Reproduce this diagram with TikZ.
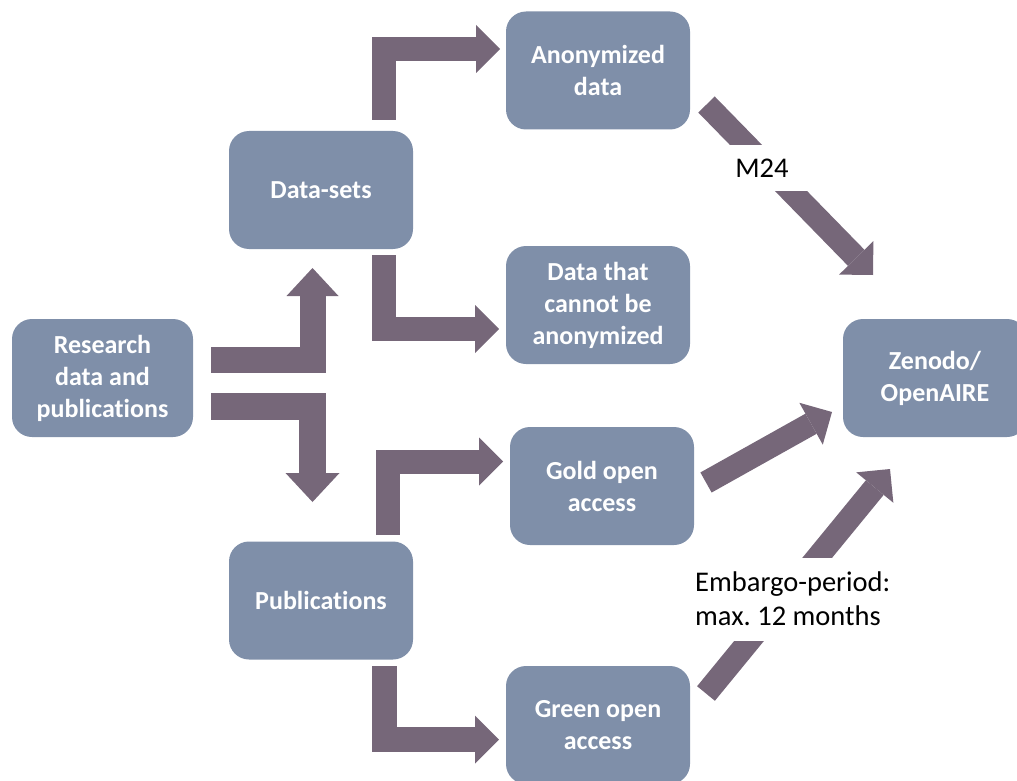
\documentclass[tikz,border=0pt]{standalone}
\usepackage{fontspec}
\setmainfont{Carlito}[Ligatures=NoCommon]
\usetikzlibrary{arrows.meta}
\definecolor{boxc}{HTML}{7F8FA9}
\definecolor{arrc}{HTML}{766779}
\begin{document}
\begin{tikzpicture}[x=1pt,y=-1pt,
  box/.style={rectangle,rounded corners=20pt,fill=boxc,minimum width=184pt,minimum height=118pt,
    inner sep=0pt,align=center,text=white,font=\fontsize{26}{32}\selectfont\bfseries},
  fat/.style={draw=arrc,line width=26pt,line join=miter,-{Triangle[width=52pt,length=28pt,line width=0pt]}},
  mid/.style={draw=arrc,line width=24pt,line join=miter,-{Triangle[width=48pt,length=24pt,line width=0pt]}},
  diag/.style={draw=arrc,line width=23pt,-{Triangle[width=48pt,length=24pt,line width=0pt]}},
  lbl/.style={fill=white,text=black,font=\fontsize{28.5}{34}\selectfont\frenchspacing}]
\useasboundingbox (0,0) rectangle (1017,781);
% nodes
\node[box,minimum width=181pt] (res) at (102.5,378) {Research\\data and\\publications};
\node[box] (ds) at (321,190) {Data-sets};
\node[box] (pub) at (321,600.5) {Publications};
\node[box] (anon) at (598,70.5) {Anonymized\\data};
\node[box] (nonanon) at (598,305) {Data that\\cannot be\\anonymized};
\node[box] (gold) at (602,486) {Gold open\\access};
\node[box] (green) at (598,725) {Green open\\access};
\node[box] (zen) at (935,378) {Zenodo/\\OpenAIRE};
% connector end points
\coordinate (a1s) at (211,360);   \coordinate (a1e) at (312.5,268);
\coordinate (a2s) at (211,406.5); \coordinate (a2e) at (312.5,502);
\coordinate (a3s) at (383.5,120); \coordinate (a3e) at (500,49);
\coordinate (a4s) at (383.5,255); \coordinate (a4e) at (499,329);
\coordinate (a5s) at (388,535);   \coordinate (a5e) at (503,461.5);
\coordinate (a6s) at (384,666);   \coordinate (a6e) at (499,739.5);
\coordinate (a7s) at (706.5,104.5); \coordinate (a7e) at (873,275);
\coordinate (a8s) at (706,482.5); \coordinate (a8e) at (832,412);
\coordinate (a9s) at (706,693.5); \coordinate (a9e) at (890,469);
% connectors
\draw[fat] (a1s) -| (a1e);
\draw[fat,line width=27pt,-{Triangle[width=54pt,length=29pt,line width=0pt]}] (a2s) -| (a2e);
\draw[mid] (a3s) |- (a3e);
\draw[mid] (a4s) |- (a4e);
\draw[mid] (a5s) |- (a5e);
\draw[mid,line width=25pt] (a6s) |- (a6e);
\draw[diag] (a7s) -- (a7e);
\draw[diag] (a8s) -- (a8e);
\draw[diag] (a9s) -- (a9e);
% labels
\node[lbl,minimum width=100pt,minimum height=45pt,inner sep=0pt] (m24) at (762,168) {M24};
\node[lbl,anchor=west,align=left,minimum height=83pt,inner xsep=5pt,inner ysep=0pt] (emb) at (690,599) {Embargo-period:\\max. 12 months};
\end{tikzpicture}
\end{document}
